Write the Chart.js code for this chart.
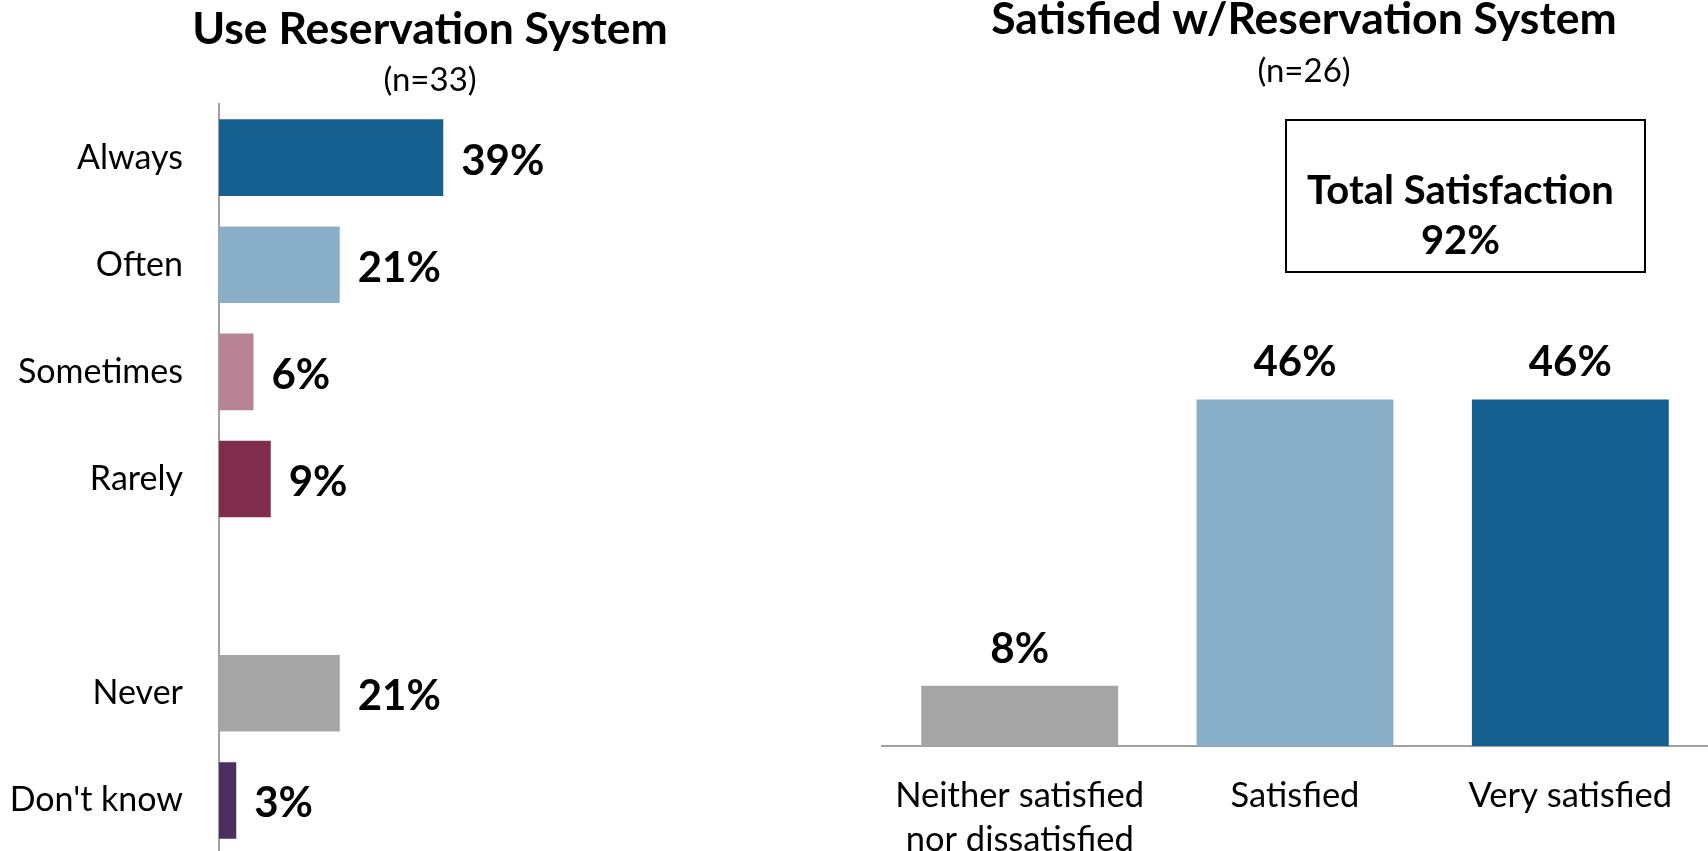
<!DOCTYPE html>
<html>
<head>
<meta charset="utf-8">
<script src="https://cdn.jsdelivr.net/npm/chart.js"></script>
<style>
  html, body { margin: 0; padding: 0; background: #fff; overflow: hidden; }
  body { width: 1708px; height: 851px; position: relative; }
  canvas { position: absolute; top: 0; }
  #useChart { left: 0; }
  #satChart { left: 860px; }
</style>
</head>
<body>
<canvas id="useChart" width="860" height="854"></canvas>
<canvas id="satChart" width="848" height="880"></canvas>
<script>
const useLabels = ["Always", "Often", "Sometimes", "Rarely", "", "Never", "Don't know"];
const useValues = [39, 21, 6, 9, null, 21, 3];
const useColors = ["#156090", "#89AFC8", "#B88394", "#7F2D4B", "#ffffff", "#A5A5A5", "#4B2F5F"];

const satLabels = [["Neither satisfied", "nor dissatisfied"], "Satisfied", "Very satisfied"];
const satValues = [8, 46, 46];
const satColors = ["#A5A5A5", "#89AFC8", "#156090"];

const totalSatisfaction = 92;

const FONT = "Lato";
Chart.defaults.font.family = FONT;
Chart.defaults.color = "#000";

// percent labels next to / above the bars
const valueLabels = {
  id: "valueLabels",
  afterDatasetsDraw(chart, args, opts) {
    const ctx = chart.ctx;
    const data = chart.data.datasets[0].data;
    ctx.save();
    ctx.font = "bold 42px " + FONT;
    ctx.fillStyle = "#000";
    ctx.textBaseline = "alphabetic";
    chart.getDatasetMeta(0).data.forEach((bar, i) => {
      if (data[i] == null) return;
      let txt = data[i] + "%";
      if (opts.horizontal) {
        ctx.textAlign = "left";
        ctx.fillText(txt, bar.x + 18, bar.y + 17);
      } else {
        ctx.textAlign = "center";
        ctx.fillText(txt, bar.x, bar.y - 23);
      }
    });
    ctx.restore();
  }
};

// chart titles, sample sizes and the total box
const headings = {
  id: "headings",
  afterDraw(chart, args, opts) {
    const ctx = chart.ctx;
    ctx.save();
    ctx.fillStyle = "#000";
    ctx.textAlign = "center";
    ctx.textBaseline = "alphabetic";
    ctx.font = "bold 44.5px " + FONT;
    ctx.fillText(opts.title, opts.x, opts.titleY);
    ctx.font = "33px " + FONT;
    ctx.fillText(opts.sub, opts.x, opts.subY);
    if (opts.box) {
      let b = opts.box;
      ctx.strokeStyle = "#000";
      ctx.lineWidth = 2;
      ctx.strokeRect(b.x, b.y, b.w, b.h);
      ctx.font = "bold 40px " + FONT;
      ctx.fillText("Total Satisfaction", b.x + b.w / 2 - 5, b.y + 84);
      ctx.fillText(totalSatisfaction + "%", b.x + b.w / 2 - 5, b.y + 134);
    }
    ctx.restore();
  }
};

new Chart("useChart", {
  type: "bar",
  data: {
    labels: useLabels,
    datasets: [{
      data: useValues,
      backgroundColor: useColors,
      barPercentage: 0.715,
      categoryPercentage: 1
    }]
  },
  options: {
    indexAxis: "y",
    responsive: false,
    animation: false,
    devicePixelRatio: 1,
    layout: { padding: { top: 104, right: 66, bottom: 0, left: 0 } },
    scales: {
      x: { display: false, min: 0, max: 100 },
      y: {
        grid: { display: false, drawTicks: false },
        border: { display: true, color: "#A0A0A0", width: 2 },
        ticks: { padding: 36, font: { size: 34 }, color: "#000" },
        afterFit: (s) => { s.width = 219; s.paddingTop = 0; s.paddingBottom = 0; }
      }
    },
    plugins: {
      legend: { display: false },
      tooltip: { enabled: false },
      valueLabels: { horizontal: true },
      headings: { title: "Use Reservation System", sub: "(n=33)", x: 430, titleY: 44, subY: 91 }
    }
  },
  plugins: [valueLabels, headings]
});

new Chart("satChart", {
  type: "bar",
  data: {
    labels: satLabels,
    datasets: [{
      data: satValues,
      backgroundColor: satColors,
      barPercentage: 0.715,
      categoryPercentage: 1
    }]
  },
  options: {
    responsive: false,
    animation: false,
    devicePixelRatio: 1,
    layout: { padding: { top: 294, right: 0, bottom: 0, left: 22 } },
    scales: {
      y: { display: false, min: 0, max: 60 },
      x: {
        grid: { display: false, drawTicks: false },
        border: { display: true, color: "#A0A0A0", width: 2 },
        ticks: { padding: 27, font: { size: 34.5, lineHeight: 1.3 }, color: "#000", maxRotation: 0, autoSkip: false },
        afterFit: (s) => { s.height = 134; }
      }
    },
    plugins: {
      legend: { display: false },
      tooltip: { enabled: false },
      valueLabels: { horizontal: false },
      headings: {
        title: "Satisfied w/Reservation System", sub: "(n=26)", x: 444, titleY: 34, subY: 82,
        box: { x: 426, y: 120, w: 359, h: 152 }
      }
    }
  },
  plugins: [valueLabels, headings]
});
</script>
</body>
</html>
